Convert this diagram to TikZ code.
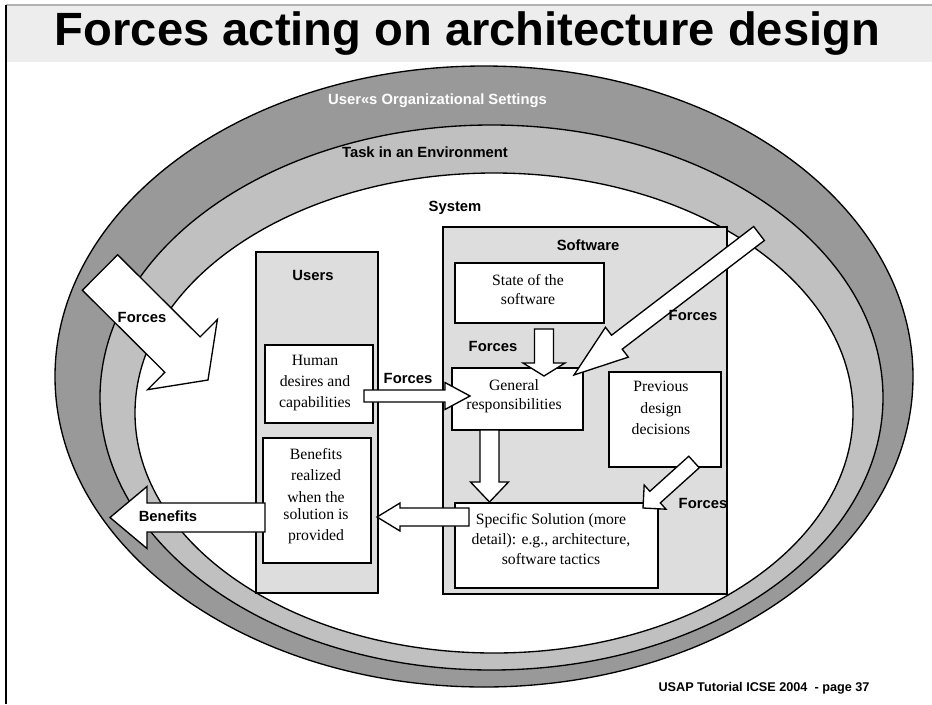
\documentclass[tikz,border=0pt]{standalone}
\usepackage{fontspec}
\usepackage{graphicx}
\setmainfont{Liberation Serif}
\setsansfont{Liberation Sans}
\usetikzlibrary{calc}
\definecolor{ringdark}{HTML}{999999}
\definecolor{ringlight}{HTML}{C0C0C0}
\definecolor{boxgray}{HTML}{DDDDDD}
\definecolor{titlegray}{HTML}{EDEDED}
\tikzset{
  wbox/.style={draw, line width=1.1pt, fill=white, inner sep=0pt},
  gbox/.style={draw, line width=1.1pt, fill=boxgray, inner sep=0pt},
  lbl/.style={font=\sffamily\bfseries\fontsize{11.1}{13}\selectfont, inner sep=0pt},
  txt/.style={align=center, inner sep=0pt},
  barrow/.style={draw, line width=1pt, fill=white, line join=miter},
  ring/.style={draw, line width=1pt}
}
% #1 tail coordinate, #2 tip coordinate, #3 shaft half width, #4 head half width, #5 head length
\newcommand{\blockarrow}[5]{%
  \coordinate (#1n) at ($(#2)!#5!(#1)$);
  \draw[barrow] ($(#1)!#3!90:(#2)$) -- ($(#1n)!#3!90:(#2)$) -- ($(#1n)!#4!90:(#2)$)
    -- (#2) -- ($(#1n)!#4!-90:(#2)$) -- ($(#1n)!#3!-90:(#2)$) -- ($(#1)!#3!-90:(#2)$) -- cycle;}
\begin{document}
\begin{tikzpicture}[x=0.75pt,y=-0.75pt]
\useasboundingbox (0,0) rectangle (932,704);
\fill[white] (0,0) rectangle (932,704);
% title band
\fill[titlegray] (6,5) rectangle (932,62);
\draw[black!30, line width=0.8pt] (6,5) -- (932,5);
\draw[black, line width=1.5pt] (6,5) -- (6,704);
\node[font=\sffamily\bfseries\fontsize{35}{40}\selectfont, inner sep=0pt] (title) at (467.5,33.5) {\resizebox{618.75pt}{\height}{Forces acting on architecture design}};
% rings
\draw[ring, fill=ringdark] (484,376.5) ellipse [x radius=429, y radius=310.5];
\draw[ring, fill=ringlight] (491.5,397.5) ellipse [x radius=391.5, y radius=272.5];
\draw[ring, fill=white] (494,413) ellipse [x radius=359, y radius=240];
\node[lbl, text=white] (org) at (437.5,101) {User«s Organizational Settings};
\node[lbl] (task) at (425,152) {Task in an Environment};
\node[lbl] (sys) at (455,208) {System};
% containers
\node[gbox, minimum width=213pt, minimum height=275.25pt] (soft) at (585,410.5) {};
\node[lbl] (softl) at (588,245) {Software};
\node[gbox, minimum width=91.5pt, minimum height=255.75pt] (users) at (317,422.5) {};
\node[lbl] (usersl) at (313,275) {Users};
% inner boxes
\node[wbox, minimum width=111.75pt, minimum height=45pt] (state) at (529.5,293) {};
\node[txt, font=\fontsize{11.8}{14.25}\selectfont] (statet) at (528,289.5) {State of the\\software};
\node[wbox, minimum width=98.25pt, minimum height=46.5pt] (gen) at (517.5,399) {};
\node[txt, font=\fontsize{11.8}{14.25}\selectfont] (gent) at (514,396.5) {General\\responsibilities};
\node[wbox, minimum width=84pt, minimum height=71.25pt] (prev) at (665,419.5) {};
\node[txt, font=\fontsize{11.8}{16.1}\selectfont] (prevt) at (661,408) {Previous\\design\\decisions};
\node[wbox, minimum width=152.25pt, minimum height=63.75pt] (spec) at (556.5,545.5) {};
\node[txt, font=\fontsize{11.8}{15}\selectfont] (spect) at (551,539) {Specific Solution (more\\detail): e.g., architecture,\\software tactics};
\node[wbox, minimum width=81pt, minimum height=58.5pt] (hum) at (319,384) {};
\node[txt, font=\fontsize{11.8}{15.75}\selectfont] (humt) at (315,383) {Human\\desires and\\capabilities};
\node[wbox, minimum width=81pt, minimum height=93.75pt] (ben) at (317,500.5) {};
\node[txt, font=\fontsize{11.8}{16.1}\selectfont] (bent) at (316,496) {Benefits\\realized\\when the\\[-3.4pt]solution is\\provided};
% arrow end points
\coordinate (a1s) at (100,272.5); \coordinate (a1t) at (208,380);
\coordinate (a2s) at (364,396);   \coordinate (a2t) at (470,396);
\coordinate (a3s) at (544,329);   \coordinate (a3t) at (544,376);
\coordinate (a4s) at (759,233.5); \coordinate (a4t) at (574,375);
\coordinate (a5s) at (489.5,430); \coordinate (a5t) at (489.5,502);
\coordinate (a6s) at (694,462);   \coordinate (a6t) at (643,508);
\coordinate (a7s) at (469,517);   \coordinate (a7t) at (377,517);
\coordinate (a8s) at (265,517.5); \coordinate (a8t) at (110,517.5);
\blockarrow{a1s}{a1t}{18.75pt}{37.1pt}{27pt}
\blockarrow{a2s}{a2t}{4.5pt}{10.1pt}{18.75pt}
\blockarrow{a3s}{a3t}{7.1pt}{15.75pt}{9.75pt}
\blockarrow{a4s}{a4t}{6.6pt}{14.1pt}{40.5pt}
\blockarrow{a5s}{a5t}{7.1pt}{14.25pt}{15pt}
\blockarrow{a6s}{a6t}{5.85pt}{12.2pt}{12.2pt}
\blockarrow{a7s}{a7t}{6.75pt}{10.5pt}{17.25pt}
\blockarrow{a8s}{a8t}{10.9pt}{23.25pt}{27.75pt}
% arrow labels
\node[lbl] (f1) at (142,317) {Forces};
\node[lbl] (f2) at (408,378) {Forces};
\node[lbl] (f3) at (493,346) {Forces};
\node[lbl] (f4) at (693,315) {Forces};
\node[lbl] (f6) at (703,503) {Forces};
\node[lbl] (bl) at (168,516) {Benefits};
% footer
\node[font=\sffamily\bfseries\fontsize{9.5}{11}\selectfont, inner sep=0pt] (foot) at (764,688) {USAP Tutorial ICSE 2004 \ - page 37};
\end{tikzpicture}
\end{document}
